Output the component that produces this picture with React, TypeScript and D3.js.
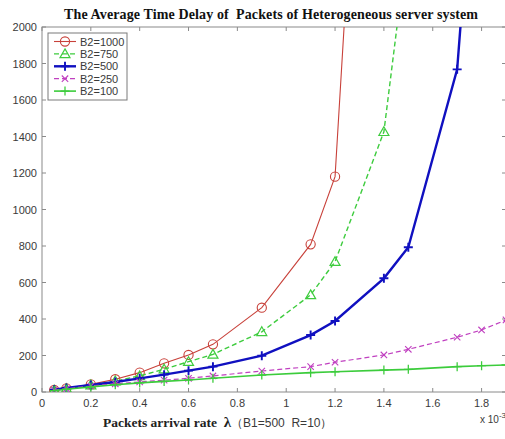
import React from "react";
import * as d3 from "d3";

// arrival rate (x 10^-3) and average delay per B2 setting
const xB1000 = [0.05, 0.1, 0.2, 0.3, 0.4, 0.5, 0.6, 0.7, 0.9, 1.1, 1.2, 1.3];
const yB1000 = [11, 20, 42, 70, 106, 157, 203, 261, 462, 809, 1180, 3400];

const xB750 = [0.05, 0.1, 0.2, 0.3, 0.4, 0.5, 0.6, 0.7, 0.9, 1.1, 1.2, 1.4, 1.5];
const yB750 = [10, 18, 38, 60, 88, 125, 166, 206, 330, 532, 714, 1426, 2500];

const xB500 = [0.05, 0.1, 0.2, 0.3, 0.4, 0.5, 0.6, 0.7, 0.9, 1.1, 1.2, 1.4, 1.5, 1.7, 1.8];
const yB500 = [12, 22, 38, 55, 75, 95, 117, 139, 199, 312, 389, 623, 793, 1768, 3500];

const xB250 = [0.05, 0.1, 0.2, 0.3, 0.4, 0.5, 0.6, 0.7, 0.9, 1.1, 1.2, 1.4, 1.5, 1.7, 1.8, 1.9];
const yB250 = [10, 18, 33, 45, 55, 65, 75, 88, 115, 139, 163, 203, 234, 300, 340, 395];

const xB100 = [0.05, 0.1, 0.2, 0.3, 0.4, 0.5, 0.6, 0.7, 0.9, 1.1, 1.2, 1.4, 1.5, 1.7, 1.8, 1.9];
const yB100 = [8, 15, 28, 40, 50, 58, 66, 75, 93, 106, 111, 120, 124, 139, 144, 148];

const seriesNames = ["B2=1000", "B2=750", "B2=500", "B2=250", "B2=100"];
const xTicks = [0, 0.2, 0.4, 0.6, 0.8, 1, 1.2, 1.4, 1.6, 1.8];
const yTicks = [0, 200, 400, 600, 800, 1000, 1200, 1400, 1600, 1800, 2000];

const W = 505;
const H = 439;
const left = 42, right = 506, top = 27, bottom = 392;

type Marker = "circle" | "triangle" | "plus" | "x";

const series = [
  { name: seriesNames[0], xs: xB1000, ys: yB1000, color: "#c8413a", width: 1.1, dash: null, marker: "circle" as Marker },
  { name: seriesNames[1], xs: xB750, ys: yB750, color: "#3ecc3e", width: 1.4, dash: "5,3", marker: "triangle" as Marker },
  { name: seriesNames[2], xs: xB500, ys: yB500, color: "#1010c0", width: 2.4, dash: null, marker: "plus" as Marker },
  { name: seriesNames[3], xs: xB250, ys: yB250, color: "#c040c0", width: 1.2, dash: "5,3", marker: "x" as Marker },
  { name: seriesNames[4], xs: xB100, ys: yB100, color: "#3ccc3c", width: 1.6, dash: null, marker: "plus" as Marker },
];

function MarkerShape({ kind, x, y, color, sw }: { kind: Marker; x: number; y: number; color: string; sw: number }) {
  if (kind === "circle") {
    return <circle cx={x} cy={y} r={4.6} fill="none" stroke={color} strokeWidth={1.1} />;
  }
  if (kind === "triangle") {
    const s = 5;
    return (
      <path
        d={`M${x},${y - s}L${x + s},${y + s * 0.75}L${x - s},${y + s * 0.75}Z`}
        fill="none"
        stroke={color}
        strokeWidth={1.2}
      />
    );
  }
  if (kind === "plus") {
    const s = 4.5;
    return (
      <path d={`M${x - s},${y}H${x + s}M${x},${y - s}V${y + s}`} stroke={color} strokeWidth={sw} fill="none" />
    );
  }
  const s = 3.2;
  return (
    <path
      d={`M${x - s},${y - s}L${x + s},${y + s}M${x - s},${y + s}L${x + s},${y - s}`}
      stroke={color}
      strokeWidth={1.1}
      fill="none"
    />
  );
}

export default function App() {
  const x = d3.scaleLinear().domain([0, 1.9]).range([left, right]);
  const y = d3.scaleLinear().domain([0, 2000]).range([bottom, top]);

  const line = d3
    .line<[number, number]>()
    .x((d) => x(d[0]))
    .y((d) => y(d[1]));

  const axisColor = "#8a8a8a";
  const textColor = "#3a3a3a";
  const pre = { whiteSpace: "pre" as const };

  return (
    <div style={{ position: "fixed", left: 0, top: 0 }}>
      <svg width={W} height={H} style={{ display: "block", background: "#fff" }}>
        <defs>
          <clipPath id="plot-clip">
            <rect x={left} y={top} width={right - left} height={bottom - top} />
          </clipPath>
        </defs>

        <text
          x={64}
          y={19}
          textLength={414}
          lengthAdjust="spacing"
          style={pre}
          fontFamily="'Liberation Serif', 'Times New Roman', serif"
          fontWeight="bold"
          fontSize={14}
          fill="#111"
        >
          The Average Time Delay of  Packets of Heterogeneous server system
        </text>

        {/* frame */}
        <rect x={left} y={top} width={right - left} height={bottom - top} fill="none" stroke={axisColor} strokeWidth={1} />

        {/* ticks */}
        {xTicks.map((t) => (
          <g key={"xt" + t}>
            <line x1={x(t)} x2={x(t)} y1={bottom} y2={bottom - 4} stroke={axisColor} />
            <line x1={x(t)} x2={x(t)} y1={top} y2={top + 4} stroke={axisColor} />
            <text
              x={x(t)}
              y={407}
              textAnchor="middle"
              fontFamily="'Liberation Sans', Arial, sans-serif"
              fontSize={11}
              fill={textColor}
            >
              {d3.format("~g")(t)}
            </text>
          </g>
        ))}
        {yTicks.map((t) => (
          <g key={"yt" + t}>
            <line x1={left} x2={left + 4} y1={y(t)} y2={y(t)} stroke={axisColor} />
            <line x1={right} x2={right - 4} y1={y(t)} y2={y(t)} stroke={axisColor} />
            <text
              x={37}
              y={y(t) + 4}
              textAnchor="end"
              fontFamily="'Liberation Sans', Arial, sans-serif"
              fontSize={11}
              fill={textColor}
            >
              {t}
            </text>
          </g>
        ))}

        {/* series */}
        <g clipPath="url(#plot-clip)">
          {series.map((s) => {
            const pts = s.xs.map((v, i) => [v, s.ys[i]] as [number, number]);
            return (
              <g key={s.name}>
                <path
                  d={line(pts) || ""}
                  fill="none"
                  stroke={s.color}
                  strokeWidth={s.width}
                  strokeDasharray={s.dash || undefined}
                />
                {pts.map((p, i) => (
                  <MarkerShape
                    key={i}
                    kind={s.marker}
                    x={x(p[0])}
                    y={y(p[1])}
                    color={s.color}
                    sw={s.marker === "plus" ? Math.max(1.2, s.width * 0.8) : 1.1}
                  />
                ))}
              </g>
            );
          })}
        </g>

        {/* legend */}
        <rect x={48} y={33} width={79} height={67} fill="#fff" stroke="#7a7a7a" strokeWidth={1} />
        {series.map((s, i) => {
          const ly = 41.5 + i * 12.4;
          return (
            <g key={"lg" + s.name}>
              <line
                x1={54}
                x2={76}
                y1={ly}
                y2={ly}
                stroke={s.color}
                strokeWidth={s.width}
                strokeDasharray={s.dash || undefined}
              />
              <MarkerShape kind={s.marker} x={65} y={ly} color={s.color} sw={s.marker === "plus" ? Math.max(1.2, s.width * 0.8) : 1.1} />
              <text
                x={80}
                y={ly + 4}
                fontFamily="'Liberation Sans', Arial, sans-serif"
                fontSize={11}
                fill={textColor}
              >
                {s.name}
              </text>
            </g>
          );
        })}

        {/* axis label */}
        <text x={103} y={427} style={pre} fontFamily="'Liberation Serif', 'Times New Roman', serif" fontSize={13.5} fontWeight="bold" fill="#222">
          {"Packets arrival rate  "}
          <tspan fontSize={15}>λ</tspan>
          <tspan fontFamily="'Liberation Sans', Arial, sans-serif" fontWeight="normal" fontSize={12} fill={textColor}>
            {"（B1=500  R=10）"}
          </tspan>
        </text>

        <text x={480} y={423} fontFamily="'Liberation Sans', Arial, sans-serif" fontSize={10} fill={textColor}>
          x 10
          <tspan dy={-5} fontSize={8}>
            -3
          </tspan>
        </text>
      </svg>
    </div>
  );
}
